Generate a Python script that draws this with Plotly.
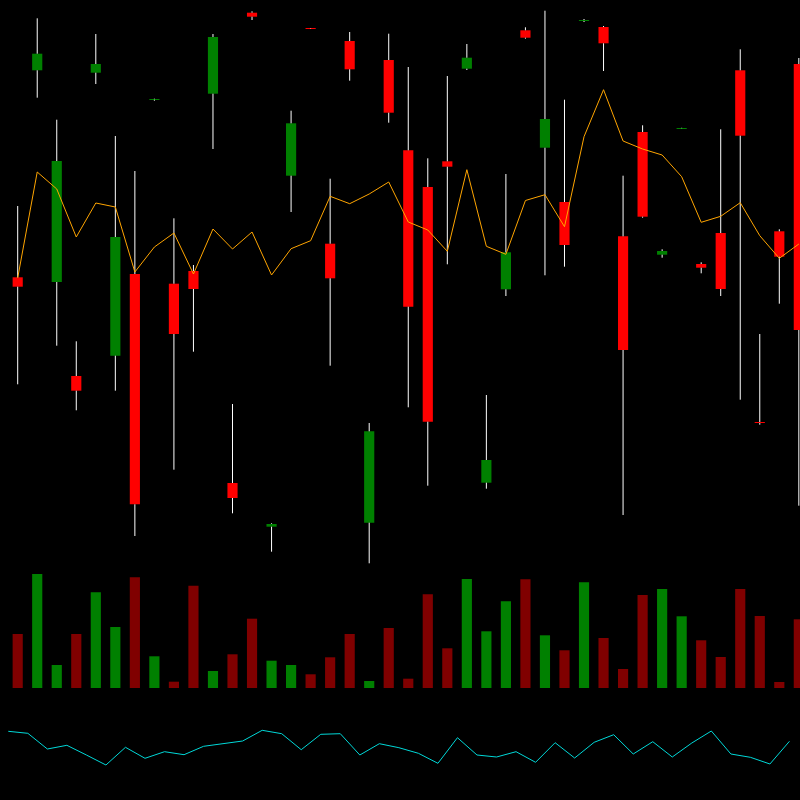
import plotly.graph_objects as go

# ---- data ----
idx = list(range(41))

opens = [32.27, 52.97, 31.80, 22.40, 52.73, 24.43, 32.60, 50.00, 31.63, 32.90,
         50.63, 11.70, 58.73, 7.33, 42.43, 57.18, 35.63, 55.90, 7.73, 54.00,
         44.97, 41.30, 43.87, 53.13, 11.73, 31.07, 56.97, 45.23, 39.80, 57.90,
         57.30, 36.37, 46.80, 34.53, 47.14, 33.60, 36.70, 52.97, 17.80, 36.87,
         53.60]
highs = [39.40, 58.17, 48.03, 25.87, 56.60, 46.40, 42.90, 50.13, 38.17, 33.50,
         56.60, 19.60, 58.87, 7.67, 48.93, 57.20, 42.13, 56.80, 17.70, 56.63,
         53.30, 44.17, 52.40, 55.60, 20.50, 42.60, 57.27, 58.93, 50.03, 58.10,
         57.40, 42.43, 47.47, 35.07, 47.22, 33.77, 47.07, 55.07, 26.60, 37.07,
         54.20]
lows = [21.57, 50.23, 25.43, 18.97, 51.60, 20.93, 6.40, 49.93, 13.03, 24.83,
        45.10, 8.67, 58.00, 4.83, 38.80, 57.10, 23.43, 51.93, 3.67, 47.73,
        19.27, 11.43, 33.57, 53.00, 11.13, 30.40, 56.13, 32.47, 33.33, 57.80,
        52.90, 8.50, 38.23, 34.23, 47.12, 32.67, 30.40, 20.03, 17.53, 29.63,
        9.43]
closes = [31.33, 54.63, 43.90, 20.93, 53.60, 36.30, 9.57, 50.07, 26.60, 31.10,
          56.30, 10.20, 58.33, 7.60, 47.67, 57.13, 32.17, 53.07, 16.87, 48.73,
          29.33, 17.83, 43.33, 54.23, 14.00, 34.77, 56.23, 48.10, 35.50, 58.00,
          55.67, 25.00, 38.33, 34.90, 47.20, 33.23, 31.10, 46.43, 17.70, 34.33,
          27.00]
line_orange = [32.20, 42.80, 41.10, 36.30, 39.70, 39.30, 32.80, 35.30, 36.70, 32.60,
               37.10, 35.10, 36.80, 32.50, 35.13, 35.93, 40.37, 39.63, 40.60, 41.80,
               37.80, 37.00, 34.87, 43.03, 35.37, 34.57, 39.95, 40.53, 37.33, 46.33,
               51.03, 45.90, 45.10, 44.50, 42.33, 37.77, 38.37, 39.73, 36.43, 34.17,
               35.60]
volumes = [54000, 114000, 23000, 54000, 95700, 61000, 110700, 31700, 6300, 102300,
           17000, 33700, 69300, 27300, 23000, 13700, 30700, 54000, 7000, 60000,
           9300, 93700, 39700, 109000, 56700, 86700, 108700, 52700, 37700, 105700,
           50000, 19000, 93000, 99000, 71700, 47700, 31000, 99000, 72000, 6000,
           68700]
line_cyan = [68.7, 66.7, 51.0, 54.7, 45.0, 35.0, 52.7, 41.7, 48.3, 45.3,
             53.7, 56.0, 59.0, 69.7, 66.3, 50.3, 65.7, 66.3, 45.0, 56.3,
             52.3, 46.7, 36.7, 62.3, 45.0, 43.0, 48.3, 37.7, 57.3, 42.0,
             57.7, 65.3, 46.0, 58.3, 43.0, 57.0, 69.0, 46.0, 42.7, 36.0,
             58.7]

UP_BODY = "#008000"
DOWN_BODY = "#ff0000"
UP_VOL = "#008000"
DOWN_VOL = "#800000"

up = [c >= o for o, c in zip(opens, closes)]
body_base = [min(o, c) for o, c in zip(opens, closes)]
body_top = [max(o, c) for o, c in zip(opens, closes)]
body_h = [t - b for t, b in zip(body_top, body_base)]

# wick segments outside bodies
wx, wy = [], []
for i in idx:
    wx += [i, i, None, i, i, None]
    wy += [highs[i], body_top[i], None, body_base[i], lows[i], None]

fig = go.Figure()
fig.add_trace(go.Scatter(x=wx, y=wy, mode="lines", line=dict(color="white", width=1),
                         hoverinfo="skip", showlegend=False, xaxis="x", yaxis="y"))
fig.add_trace(go.Bar(x=idx, y=body_h, base=body_base, width=0.52,
                     marker=dict(color=[UP_BODY if u else DOWN_BODY for u in up], line=dict(width=0)),
                     showlegend=False, xaxis="x", yaxis="y"))
fig.add_trace(go.Scatter(x=idx, y=line_orange, mode="lines", line=dict(color="#FFA500", width=1),
                         showlegend=False, xaxis="x", yaxis="y"))
fig.add_trace(go.Bar(x=idx, y=volumes, width=0.52,
                     marker=dict(color=[UP_VOL if u else DOWN_VOL for u in up], line=dict(width=0)),
                     showlegend=False, xaxis="x", yaxis="y2"))
fig.add_trace(go.Scatter(x=idx, y=line_cyan, mode="lines", line=dict(color="#00d8d8", width=1),
                         showlegend=False, xaxis="x3", yaxis="y3"))

hidden = dict(visible=False, showgrid=False, zeroline=False, showticklabels=False, fixedrange=True)
fig.update_layout(
    width=800, height=800,
    margin=dict(l=0, r=0, t=0, b=0),
    paper_bgcolor="black", plot_bgcolor="black",
    showlegend=False,
    barmode="overlay",
    xaxis=dict(range=[-0.906, 40.06], domain=[0, 1], **hidden),
    xaxis3=dict(range=[-0.425, 40.54], domain=[0, 1], anchor="y3", **hidden),
    yaxis=dict(range=[3.5, 60], domain=[0.29375, 1.0], **hidden),
    yaxis2=dict(range=[0, 118000], domain=[0.14, 0.2875], anchor="x", **hidden),
    yaxis3=dict(range=[10, 100], domain=[0.0125, 0.125], anchor="x3", **hidden),
)

fig.write_html("out.html",
               config={"displayModeBar": False},
               post_script="document.body.style.margin='0px';document.body.style.background='black';")
